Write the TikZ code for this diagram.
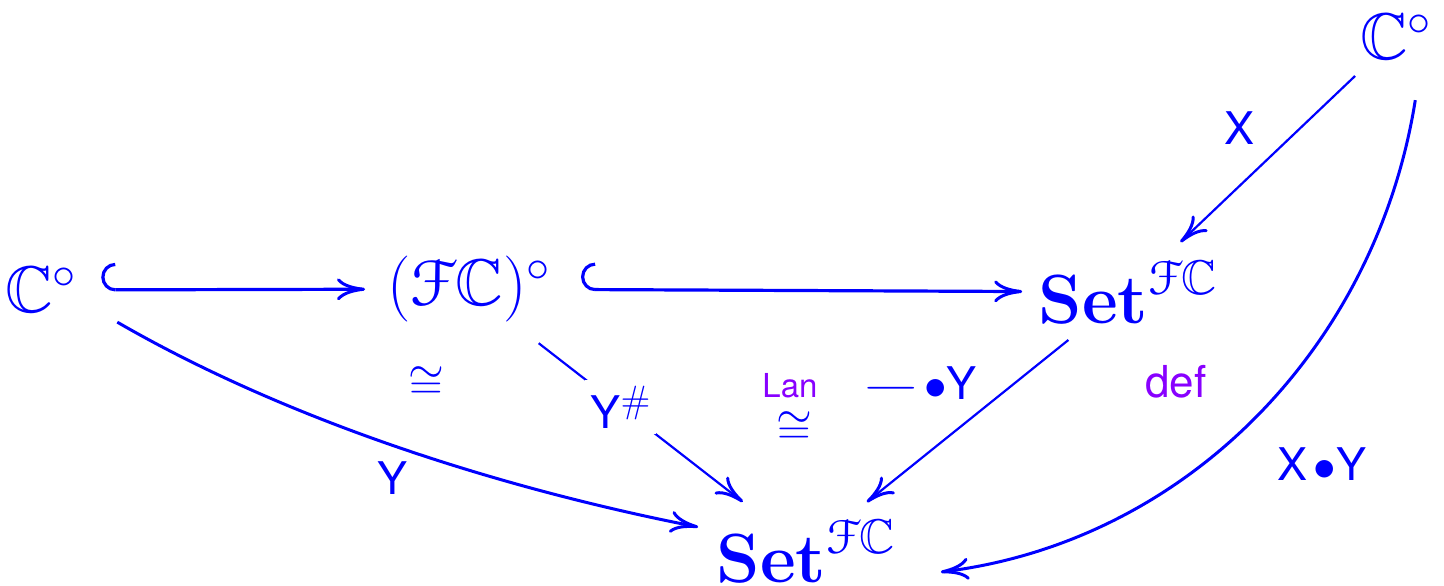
\RequirePackage{fix-cm}
\documentclass[tikz,border=0pt]{standalone}
\usepackage{graphicx}
\usepackage{amssymb}
\usepackage[mathscr]{eucal}
\usepackage[no-math]{fontspec}
\newfontfamily\labfont{TeX Gyre Heros}
\usetikzlibrary{arrows.meta}
\definecolor{cblue}{RGB}{0,0,255}
\definecolor{cpurple}{RGB}{136,0,255}
\tikzset{
  obj/.style={text=cblue, font=\fontsize{33}{40}\selectfont, inner sep=0pt},
  setobj/.style={obj, font=\fontsize{34.8}{42}\selectfont},
  lab/.style={text=cblue, font=\fontsize{22.5}{27}\selectfont\labfont, inner sep=1pt},
  plab/.style={text=cpurple, font=\fontsize{16.5}{20}\selectfont\labfont, inner sep=0pt},
  iso/.style={text=cblue, font=\fontsize{23}{27}\selectfont, inner sep=0pt},
  cmtip/.tip={Computer Modern Rightarrow[length=14pt,width=11pt,line width=1.5pt]},
  arr/.style={draw=cblue, line width=1.5pt, -cmtip},
  thin arr/.style={draw=cblue, line width=1.1pt, -cmtip},
  hookarr/.style={draw=cblue, line width=1.6pt, {Hooks[arc=180,width=27pt,length=7pt,right]}-cmtip},
}
\begin{document}
\begin{tikzpicture}[x=0.5pt,y=-0.5pt]
\useasboundingbox (0,0) rectangle (1444,585);
\node[obj] (c1) at (41,290) {$\mathbb{C}^{\circ}$};
\node[obj] (fc) at (469,289) {$(\mathscr{F}\mathbb{C})^{\circ}$};
\node[setobj] (s1) at (1128,292) {$\mathbf{Set}^{\mathscr{F}\mathbb{C}}$};
\node[setobj] (s2) at (806,551) {$\mathbf{Set}^{\mathscr{F}\mathbb{C}}$};
\node[obj] (c2) at (1396,37) {$\mathbb{C}^{\circ}$};

\draw[hookarr, shorten <=12pt, shorten >=11pt] (c1) -- (fc);
\draw[hookarr, shorten <=15pt, shorten >=8pt] (fc) -- (s1);
\draw[thin arr, shorten <=11.5pt, shorten >=13pt] (c2) -- (s1);
\draw[thin arr, shorten <=12.75pt, shorten >=13.5pt] (s1) -- (s2);
\draw[thin arr, shorten <=17pt, shorten >=14pt] (fc) -- node[lab, pos=0.43, fill=white, inner sep=3pt] (ly) {Y\raisebox{8pt}{\fontsize{19}{22}\selectfont$\#$}} (s2);
\draw[arr] ([shift={(40,9)}]c1.south east) .. controls +(173,100) and +(-194,-38) .. ([shift={(-18,8)}]s2.north west);
\draw[arr] ([shift={(-17,40)}]c2.south east) .. controls +(-39,246) and +(246,-30) .. ([shift={(45,21)}]s2.east);

\node[lab] (lx) at (1239,128) {X};
\node[lab] (lyy) at (393,478) {Y};
\node[lab] (lxy) at (1322,464) {X\kern3pt$\bullet$Y};
\node[lab] (lmy) at (919,385) {\scalebox{1.7}[1]{$-$}\kern1.5pt$\bullet$Y};
\node[iso] (iso1) at (426,383) {$\cong$};
\node[plab] (lan) at (790,386) {Lan};
\node[iso] (iso2) at (794,428) {$\cong$};
\node[plab, font=\fontsize{22}{26}\selectfont\labfont] (def) at (1176,382) {def};
\end{tikzpicture}
\end{document}
